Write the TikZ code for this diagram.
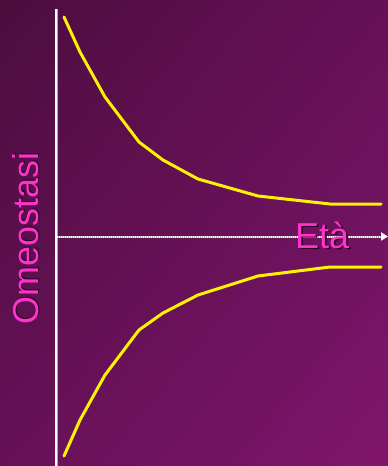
\documentclass[tikz,border=0pt]{standalone}
\usepackage{fontspec}
\setmainfont{Liberation Sans}
\usetikzlibrary{arrows.meta,shadings}
\definecolor{bgA}{RGB}{76,13,62}
\definecolor{bgB}{RGB}{102,17,87}
\definecolor{bgC}{RGB}{128,21,108}
\definecolor{mag}{RGB}{255,51,204}
\definecolor{shad}{RGB}{40,0,30}
\newcommand{\shadowtext}[1]{\makebox[0pt][l]{\raisebox{-1.6pt}{\hspace{1.6pt}\textcolor{shad}{#1}}}#1}
\tikzset{
  curve/.style={yellow, line width=3pt, line join=round, line cap=round},
  lbl/.style={font=\fontsize{36}{36}\selectfont, text=mag, inner sep=0pt},
}
\begin{document}
\begin{tikzpicture}[x=1pt,y=-1pt]
\useasboundingbox (0,0) rectangle (388,466);
\shade[upper left=bgA, upper right=bgB, lower left=bgB, lower right=bgC] (0,0) rectangle (388,466);
% axes
\coordinate (vtop) at (56,9);
\coordinate (vbot) at (56,466);
\draw[gray!70, line width=2.5pt] (56.5,9) -- (56.5,466);
\draw[white, line width=1.5pt] (vtop) -- (vbot);
\coordinate (hstart) at (57,236.5);
\coordinate (hend) at (388,236.5);
\draw[gray!60, line width=2pt] (hstart) -- (381,236.5);
\draw[white, line width=2pt, dash pattern=on 1pt off 1pt, -{Triangle[width=8pt,length=7pt,fill=white]}] (hstart) -- (hend);
% curves
\draw[curve] (64,17) -- (80,52) -- (105,97) -- (139,142) -- (163,160) -- (198,179) -- (258,196) -- (330,204) -- (381,204);
\draw[curve] (64,456) -- (80,420) -- (105,375) -- (139,330) -- (163,313) -- (198,295) -- (258,276) -- (330,267) -- (381,267);
% labels
\node[lbl, anchor=base west] (eta) at (295,248) {\shadowtext{Età}};
\node[lbl, rotate=90, anchor=base west] (omeo) at (38,325) {\shadowtext{Omeostasi}};
\end{tikzpicture}
\end{document}
